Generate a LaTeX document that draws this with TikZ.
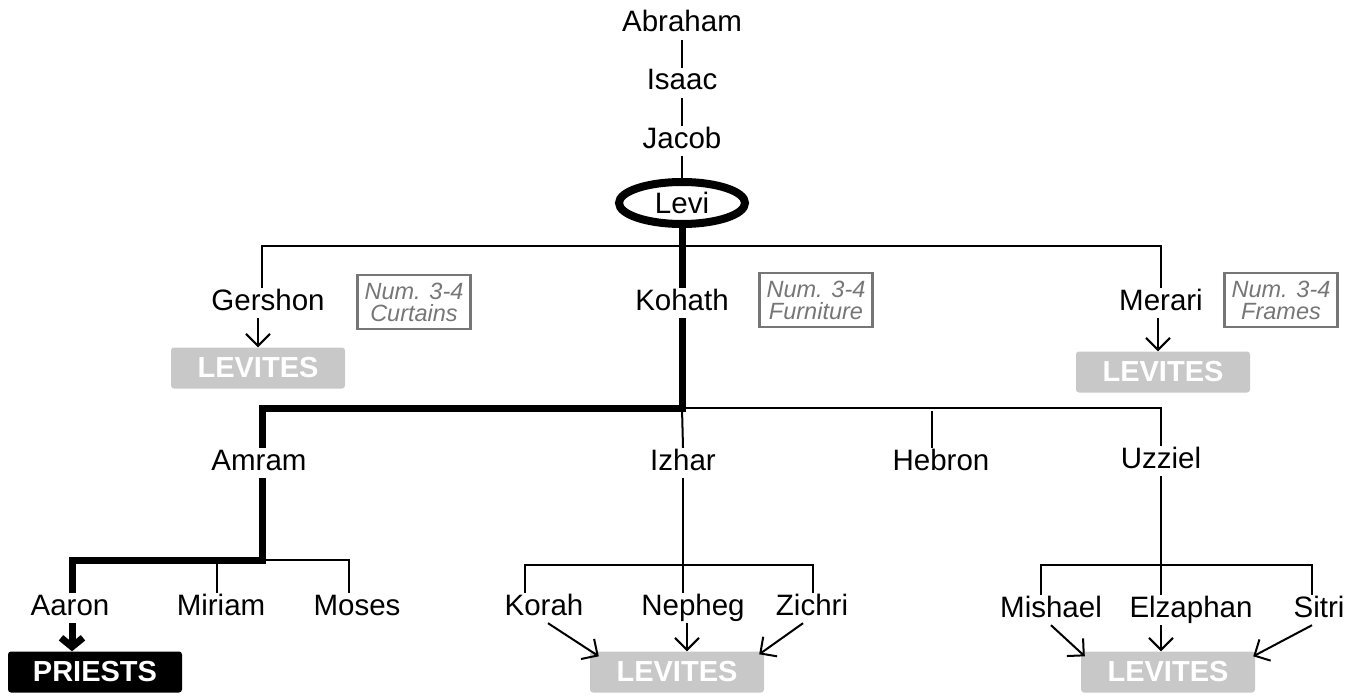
\documentclass[tikz,border=0pt]{standalone}
\usepackage{fontspec}
\setmainfont{Liberation Sans}
\usetikzlibrary{arrows.meta,shapes.geometric}
\definecolor{levgray}{RGB}{200,200,200}
\definecolor{notegray}{RGB}{118,118,118}
\tikzset{
  person/.style={inner sep=2pt, text height=20pt, text depth=6pt,
    font=\fontsize{29.5}{32}\selectfont},
  tribe/.style={rounded corners=3pt, minimum width=174pt, minimum height=41pt,
    inner sep=0pt, text=white, font=\bfseries\fontsize{29}{30}\selectfont},
  levites/.style={tribe, fill=levgray},
  priests/.style={tribe, fill=black},
  duty/.style={draw=notegray, line width=2.5pt, text=notegray, align=center,
    minimum width=113pt, minimum height=54pt, inner sep=0pt,
    font=\itshape\fontsize{23.5}{22}\selectfont},
  kin/.style={line width=2pt},
  mainline/.style={line width=7pt},
  serves/.style={line width=2pt, -{Straight Barb[length=12pt,width=24pt]}},
  anointed/.style={line width=7pt, -{Straight Barb[length=9pt,width=22pt]}}
}
\begin{document}
\begin{tikzpicture}[x=1pt, y=-1pt]
\useasboundingbox (0,0) rectangle (1359,698);
%
\draw (682,25) node[person](abraham){Abraham};
\draw (682,83) node[person](isaac){Isaac};
\draw (682,141) node[person](jacob){Jacob};
\draw (682,203) node[draw, ellipse, line width=8pt, minimum width=126pt,
  minimum height=42pt, inner sep=0pt, font=\fontsize{29.5}{32}\selectfont](levi){Levi};
\draw[kin] (abraham) -- (isaac);
\draw[kin] (isaac) -- (jacob);
\draw[kin] (jacob) -- (levi);
%
\draw (268,303) node[person](gershon){Gershon};
\draw (682,303) node[person](kohath){Kohath};
\draw (1161,303) node[person](merari){Merari};
\coordinate (levibar) at (682,246);
\draw[kin] ([xshift=-6pt]gershon.north) |- (levibar) -| (merari.north);
\draw[mainline] (levi.south) -- (kohath.north);
%
\draw (414,302) node[duty](curtains){Num. 3-4\\Curtains};
\draw (816,300) node[duty](furniture){Num. 3-4\\Furniture};
\draw (1281,300) node[duty](frames){Num. 3-4\\Frames};
%
\draw (258,368) node[levites](gerlev){LEVITES};
\draw[serves] ([xshift=-10pt]gershon.south) -- ([xshift=-10pt]gershon.south |- gerlev.north);
\draw (1163,372) node[levites](merlev){LEVITES};
\draw[serves] ([xshift=-3pt]merari.south) -- ([xshift=-3pt]merari.south |- merlev.north);
%
\draw (259,463) node[person](amram){Amram};
\draw (683,463) node[person](izhar){Izhar};
\draw (941,463) node[person](hebron){Hebron};
\draw (1161,461) node[person](uzziel){Uzziel};
\coordinate (kohathbar) at (682,408);
\draw[kin] (kohathbar) -| (uzziel.north);
\draw[kin] (kohathbar) -- (izhar.north);
\draw[kin] ([xshift=-9pt]hebron.north) -- ++(0,-37);
\draw[mainline] (kohath.south) -- (kohathbar) -| ([xshift=3pt]amram.north);
%
\draw (70,608) node[person](aaron){Aaron};
\draw (221,608) node[person](miriam){Miriam};
\draw (357,608) node[person](moses){Moses};
\coordinate (amrambar) at (262,560);
\draw[kin] (amrambar) -| ([xshift=-8pt]moses.north);
\draw[kin] ([xshift=-4pt]miriam.north) -- ++(0,-30);
\draw[mainline] ([xshift=3pt]amram.south) -- (amrambar) -| ([xshift=2pt]aaron.north);
\draw (95,672) node[priests](priests){PRIESTS};
\draw[anointed] ([xshift=2pt]aaron.south) -- ([xshift=-23pt]priests.north);
%
\draw (544,608) node[person](korah){Korah};
\draw (693,608) node[person](nepheg){Nepheg};
\draw (812,608) node[person](zichri){Zichri};
\coordinate (izharbar) at (682,565);
\draw[kin] ([xshift=-19pt]korah.north) |- (izharbar) -| ([xshift=1pt]zichri.north);
\draw[kin] (izhar.south) -- (izhar |- nepheg.north);
\draw (677,672) node[levites](izlev){LEVITES};
\draw[serves] ([xshift=4pt]korah.south) -- ([xshift=9pt,yshift=-5pt]izlev.north west);
\draw[serves] ([xshift=4pt]izhar |- nepheg.south) -- ([xshift=4pt]izhar |- izlev.north);
\draw[serves] ([xshift=-9pt]zichri.south) -- ([xshift=-5pt,yshift=-3pt]izlev.north east);
%
\draw (1051,610) node[person](mishael){Mishael};
\draw (1191,610) node[person](elzaphan){Elzaphan};
\draw (1319,610) node[person](sitri){Sitri};
\coordinate (uzzielbar) at (1160,565);
\draw[kin] ([xshift=-10pt]mishael.north) |- (uzzielbar) -| ([xshift=-7pt]sitri.north);
\draw[kin] (uzziel.south) -- (uzziel |- elzaphan.north);
\draw (1168,672) node[levites](uzlev){LEVITES};
\draw[serves] (mishael.south) -- ([xshift=4pt,yshift=-5pt]uzlev.north west);
\draw[serves] (uzziel |- elzaphan.south) -- (uzziel |- uzlev.north);
\draw[serves] ([xshift=-7pt]sitri.south) -- ([xshift=-2pt,yshift=-5pt]uzlev.north east);
\end{tikzpicture}
\end{document}
